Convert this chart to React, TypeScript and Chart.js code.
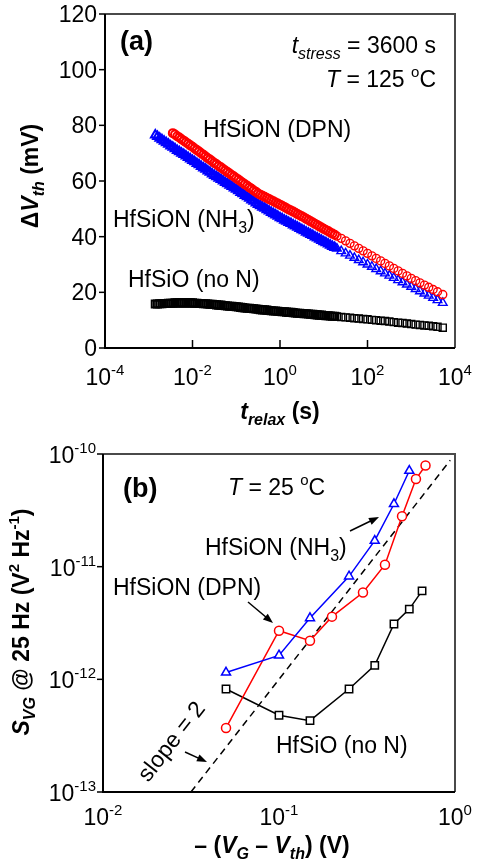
import React, { useEffect, useRef } from 'react';
import { Chart, registerables } from 'chart.js';

Chart.register(...registerables);

const FONT = '"Liberation Sans", Arial, Helvetica, sans-serif';

// ---------------- Panel (a): dVth relaxation after 3600 s stress ----------------
const relaxTimes = [
  0.00141, 0.00158, 0.00178, 0.002, 0.00224, 0.00251, 0.00282, 0.00316, 0.00355, 0.00398,
  0.00447, 0.00501, 0.00562, 0.00631, 0.00708, 0.00794, 0.00891, 0.01, 0.0112, 0.0126,
  0.0141, 0.0158, 0.0178, 0.02, 0.0224, 0.0251, 0.0282, 0.0316, 0.0355, 0.0398,
  0.0447, 0.0501, 0.0562, 0.0631, 0.0708, 0.0794, 0.0891, 0.1, 0.112, 0.126,
  0.141, 0.158, 0.178, 0.2, 0.224, 0.251, 0.282, 0.316, 0.355, 0.398,
  0.447, 0.501, 0.562, 0.631, 0.708, 0.794, 0.891, 1.0, 1.12, 1.26,
  1.41, 1.58, 1.78, 2.0, 2.24, 2.51, 2.82, 3.16, 3.55, 3.98,
  4.47, 5.01, 5.62, 6.31, 7.08, 7.94, 8.91, 10.0, 11.2, 12.6,
  14.1, 15.8, 17.8, 20.0, 25.1, 31.6, 39.8, 50.1, 63.1, 79.4,
  100, 126, 158, 200, 251, 316, 398, 501, 631, 794,
  1000, 1260, 1580, 2000, 2510, 3160, 3980, 5250,
];

const dvthDPN = [
  null, null, null, null, null, null, null, null, 77.2, 76.7,
  76.1, 75.6, 75.0, 74.5, 73.9, 73.4, 72.8, 72.3, 71.7, 71.1,
  70.6, 70.0, 69.4, 68.8, 68.2, 67.7, 67.1, 66.5, 66.0, 65.4,
  64.9, 64.3, 63.8, 63.2, 62.7, 62.1, 61.6, 61.0, 60.5, 59.9,
  59.4, 58.8, 58.3, 57.7, 57.2, 56.6, 56.1, 55.5, 55.1, 54.7,
  54.3, 53.9, 53.5, 53.1, 52.7, 52.3, 51.9, 51.5, 51.1, 50.7,
  50.2, 49.8, 49.4, 49.0, 48.6, 48.1, 47.7, 47.3, 46.9, 46.4,
  46.0, 45.5, 45.1, 44.6, 44.2, 43.7, 43.3, 42.8, 42.4, 42.0,
  41.5, 41.1, 40.7, 40.2, 39.4, 38.5, 37.6, 36.7, 35.8, 34.9,
  34.0, 33.1, 32.2, 31.3, 30.4, 29.5, 28.6, 27.7, 26.8, 25.9,
  25.0, 24.2, 23.4, 22.6, 21.8, 21.0, 20.2, 19.2,
];

const dvthNH3 = [
  76.5, 76.0, 75.4, 74.8, 74.3, 73.7, 73.2, 72.6, 72.1, 71.6,
  71.0, 70.5, 70.0, 69.5, 69.0, 68.4, 67.9, 67.4, 66.9, 66.3,
  65.8, 65.2, 64.7, 64.2, 63.6, 63.1, 62.5, 62.0, 61.5, 61.0,
  60.5, 60.0, 59.5, 59.0, 58.5, 58.0, 57.5, 57.0, 56.5, 55.9,
  55.4, 54.8, 54.3, 53.8, 53.2, 52.7, 52.1, 51.6, 51.1, 50.6,
  50.2, 49.7, 49.2, 48.7, 48.2, 47.8, 47.3, 46.8, 46.4, 45.9,
  45.5, 45.1, 44.7, 44.2, 43.8, 43.4, 42.9, 42.5, 42.1, 41.6,
  41.2, 40.8, 40.4, 39.9, 39.5, 39.1, 38.6, 38.2, 37.8, 37.4,
  36.9, 36.5, 36.1, 35.7, 34.8, 34.0, 33.2, 32.4, 31.6, 30.8,
  30.0, 29.2, 28.4, 27.6, 26.8, 26.0, 25.2, 24.4, 23.6, 22.8,
  22.0, 21.2, 20.4, 19.6, 18.8, 18.0, 17.2, 16.2,
];

const dvthNoN = [
  15.8, 15.8, 15.9, 15.9, 16.0, 16.0, 16.1, 16.1, 16.1, 16.2,
  16.2, 16.2, 16.2, 16.2, 16.2, 16.2, 16.2, 16.2, 16.1, 16.1,
  16.0, 16.0, 15.9, 15.9, 15.8, 15.7, 15.7, 15.6, 15.5, 15.4,
  15.4, 15.3, 15.2, 15.1, 15.0, 15.0, 14.9, 14.8, 14.7, 14.6,
  14.5, 14.4, 14.3, 14.3, 14.2, 14.1, 14.0, 13.9, 13.8, 13.7,
  13.7, 13.6, 13.5, 13.4, 13.3, 13.3, 13.2, 13.1, 13.0, 13.0,
  12.9, 12.8, 12.8, 12.7, 12.6, 12.5, 12.5, 12.4, 12.3, 12.3,
  12.2, 12.1, 12.1, 12.0, 11.9, 11.8, 11.8, 11.7, 11.6, 11.6,
  11.5, 11.4, 11.4, 11.3, 11.1, 11.0, 10.9, 10.7, 10.6, 10.4,
  10.3, 10.1, 10.0, 9.8, 9.7, 9.5, 9.3, 9.1, 9.0, 8.8,
  8.6, 8.4, 8.3, 8.1, 8.0, 7.8, 7.6, 7.3,
];

const aYTicks = [0, 20, 40, 60, 80, 100, 120];
const aXTickExps = [-4, -2, 0, 2, 4];

// ---------------- Panel (b): S_VG @ 25 Hz vs overdrive ----------------
const nh3Vov = [0.05, 0.1, 0.15, 0.25, 0.35, 0.45, 0.55];
const nh3Svg = [1.15e-12, 1.63e-12, 3.5e-12, 8.2e-12, 1.7e-11, 3.6e-11, 7.1e-11];

const dpnVov = [0.05, 0.1, 0.15, 0.2, 0.3, 0.4, 0.5, 0.6, 0.68];
const dpnSvg = [3.7e-13, 2.7e-12, 2.2e-12, 3.6e-12, 5.9e-12, 1.04e-11, 2.8e-11, 6.0e-11, 7.9e-11];

const noNVov = [0.05, 0.1, 0.15, 0.25, 0.35, 0.45, 0.55, 0.65];
const noNSvg = [8.2e-13, 4.8e-13, 4.3e-13, 8.2e-13, 1.33e-12, 3.1e-12, 4.2e-12, 6.1e-12];

const slopeVov = [0.0316, 0.94];
const slopeSvg = [1e-13, 8.8e-11];

const bYTickExps = [-13, -12, -11, -10];
const bXTickExps = [-2, -1, 0];

// ---------------- drawing helpers ----------------
type Seg = { t: string; size?: number; bold?: boolean; italic?: boolean; dy?: number };

function segFont(s: Seg, base: number, bold: boolean) {
  const b = s.bold ?? bold;
  return `${s.italic ? 'italic ' : ''}${b ? 'bold ' : ''}${s.size ?? base}px ${FONT}`;
}

function drawRich(
  ctx: CanvasRenderingContext2D,
  segs: Seg[],
  x: number,
  y: number,
  base: number,
  opts: { align?: 'left' | 'center' | 'right'; bold?: boolean; rot?: number; shift?: number } = {}
) {
  ctx.save();
  ctx.translate(x, y);
  if (opts.rot) ctx.rotate(opts.rot);
  let total = 0;
  for (const s of segs) {
    ctx.font = segFont(s, base, !!opts.bold);
    total += ctx.measureText(s.t).width;
  }
  let cx = opts.align === 'center' ? -total / 2 : opts.align === 'right' ? -total : 0;
  ctx.fillStyle = '#000';
  ctx.textAlign = 'left';
  ctx.textBaseline = 'alphabetic';
  for (const s of segs) {
    ctx.font = segFont(s, base, !!opts.bold);
    ctx.fillText(s.t, cx, (s.dy ?? 0) + (opts.shift ?? 0));
    cx += ctx.measureText(s.t).width;
  }
  ctx.restore();
}

function line(ctx: CanvasRenderingContext2D, x1: number, y1: number, x2: number, y2: number) {
  ctx.beginPath();
  ctx.moveTo(x1, y1);
  ctx.lineTo(x2, y2);
  ctx.stroke();
}

function arrow(ctx: CanvasRenderingContext2D, x1: number, y1: number, x2: number, y2: number) {
  const a = Math.atan2(y2 - y1, x2 - x1);
  const L = 10;
  const W = 3.8;
  ctx.lineWidth = 1.5;
  line(ctx, x1, y1, x2 - L * 0.7 * Math.cos(a), y2 - L * 0.7 * Math.sin(a));
  ctx.beginPath();
  ctx.moveTo(x2, y2);
  ctx.lineTo(x2 - L * Math.cos(a) + W * Math.sin(a), y2 - L * Math.sin(a) - W * Math.cos(a));
  ctx.lineTo(x2 - L * Math.cos(a) - W * Math.sin(a), y2 - L * Math.sin(a) + W * Math.cos(a));
  ctx.closePath();
  ctx.fill();
}

function drawBox(ctx: CanvasRenderingContext2D, area: { left: number; right: number; top: number; bottom: number }) {
  const { left, right, top, bottom } = area;
  ctx.lineWidth = 2;
  ctx.strokeStyle = '#4a4a4a';
  ctx.beginPath();
  ctx.moveTo(left, top);
  ctx.lineTo(right, top);
  ctx.lineTo(right, bottom);
  ctx.stroke();
  ctx.strokeStyle = '#000';
  ctx.beginPath();
  ctx.moveTo(left, top);
  ctx.lineTo(left, bottom);
  ctx.lineTo(right, bottom);
  ctx.stroke();
}

const sup = (t: string): Seg => ({ t, size: 15, dy: -10 });
const sub = (t: string, extra: Partial<Seg> = {}): Seg => ({ t, size: 16, dy: 6, ...extra });

const panelAPlugin = {
  id: 'panelA',
  afterDraw(chart: any) {
    const ctx: CanvasRenderingContext2D = chart.ctx;
    const area = chart.chartArea;
    const xs = chart.scales.x;
    const ys = chart.scales.y;
    ctx.save();
    drawBox(ctx, area);
    ctx.strokeStyle = '#000';
    ctx.fillStyle = '#000';
    ctx.lineWidth = 1.5;
    for (const v of aYTicks) {
      const y = ys.getPixelForValue(v);
      line(ctx, area.left - 6, y, area.left, y);
      drawRich(ctx, [{ t: String(v) }], area.left - 8, y + 8, 23, { align: 'right' });
    }
    for (const e of aXTickExps) {
      const x = xs.getPixelForValue(Math.pow(10, e));
      if (e > aXTickExps[0] && e < aXTickExps[aXTickExps.length - 1]) line(ctx, x, area.bottom, x, area.bottom - 8);
      drawRich(ctx, [{ t: '10' }, sup(String(e))], x, 385, 23, { align: 'center' });
    }
    // axis titles
    drawRich(ctx, [{ t: 't', italic: true }, sub('relax', { italic: true }), { t: ' (s)' }], 280, 419, 23, {
      align: 'center',
      bold: true,
    });
    drawRich(
      ctx,
      [{ t: 'Δ' }, { t: 'V', italic: true }, sub('th', { italic: true }), { t: ' (mV)' }],
      38,
      176,
      23,
      { align: 'center', bold: true, rot: -Math.PI / 2 }
    );
    // annotations
    drawRich(ctx, [{ t: '(a)' }], 120, 50, 27, { bold: true });
    drawRich(ctx, [{ t: 't', italic: true }, sub('stress', { italic: true }), { t: ' = 3600 s' }], 436, 53, 23, {
      align: 'right',
    });
    drawRich(ctx, [{ t: 'T', italic: true }, { t: ' = 125 ' }, sup('o'), { t: 'C' }], 436, 87, 23, { align: 'right' });
    drawRich(ctx, [{ t: 'HfSiON (DPN)' }], 203, 137, 23);
    drawRich(ctx, [{ t: 'HfSiON (NH' }, sub('3'), { t: ')' }], 113, 227, 23);
    drawRich(ctx, [{ t: 'HfSiO (no N)' }], 128, 287, 23);
    ctx.restore();
  },
};

const B_OFF = 430;

const panelBPlugin = {
  id: 'panelB',
  afterDraw(chart: any) {
    const ctx: CanvasRenderingContext2D = chart.ctx;
    const area = chart.chartArea;
    const xs = chart.scales.x;
    const ys = chart.scales.y;
    ctx.save();
    drawBox(ctx, area);
    ctx.strokeStyle = '#000';
    ctx.fillStyle = '#000';
    ctx.lineWidth = 1.5;
    for (const e of bYTickExps) {
      const y = ys.getPixelForValue(Math.pow(10, e));
      line(ctx, area.left - 6, y, area.left, y);
      drawRich(ctx, [{ t: '10' }, sup(String(e))], area.left - 7, y + 9, 23, { align: 'right' });
    }
    for (const e of bXTickExps) {
      const x = xs.getPixelForValue(Math.pow(10, e));
      drawRich(ctx, [{ t: '10' }, sup(String(e))], x, 825 - B_OFF, 23, { align: 'center' });
    }
    // axis titles
    drawRich(
      ctx,
      [
        { t: '– (' },
        { t: 'V', italic: true },
        sub('G', { italic: true }),
        { t: ' – ' },
        { t: 'V', italic: true },
        sub('th', { italic: true }),
        { t: ') (V)' },
      ],
      272,
      853 - B_OFF,
      23,
      { align: 'center', bold: true }
    );
    drawRich(
      ctx,
      [
        { t: 'S', italic: true },
        sub('VG', { italic: true }),
        { t: ' @ 25 Hz (V' },
        sup('2'),
        { t: ' Hz' },
        sup('-1'),
        { t: ')' },
      ],
      29,
      622 - B_OFF,
      23,
      { align: 'center', bold: true, rot: -Math.PI / 2 }
    );
    // annotations
    drawRich(ctx, [{ t: '(b)' }], 123, 497 - B_OFF, 27, { bold: true });
    drawRich(ctx, [{ t: 'T', italic: true }, { t: ' = 25 ' }, sup('o'), { t: 'C' }], 228, 495 - B_OFF, 23);
    drawRich(ctx, [{ t: 'HfSiON (NH' }, sub('3'), { t: ')' }], 205, 555 - B_OFF, 23);
    drawRich(ctx, [{ t: 'HfSiON (DPN)' }], 113, 595 - B_OFF, 23);
    drawRich(ctx, [{ t: 'HfSiO (no N)' }], 276, 753 - B_OFF, 23);
    drawRich(ctx, [{ t: 'slope = 2' }], 171, 741 - B_OFF, 23, { align: 'center', rot: (-52 * Math.PI) / 180, shift: 8 });
    arrow(ctx, 350, 531 - B_OFF, 379, 517 - B_OFF);
    arrow(ctx, 248, 602 - B_OFF, 273, 623 - B_OFF);
    arrow(ctx, 185, 752 - B_OFF, 207, 762 - B_OFF);
    ctx.restore();
  },
};

function pts(xs: number[], ys: (number | null)[]) {
  const out: { x: number; y: number }[] = [];
  xs.forEach((x, i) => {
    const y = ys[i];
    if (y !== null && y !== undefined) out.push({ x, y });
  });
  return out;
}

export default function App() {
  const refA = useRef<HTMLCanvasElement | null>(null);
  const refB = useRef<HTMLCanvasElement | null>(null);

  useEffect(() => {
    const common = {
      responsive: false,
      animation: false as const,
      events: [] as any[],
      plugins: { legend: { display: false }, tooltip: { enabled: false } },
    };

    // dense early-time region is drawn with heavier rings so it reads as a solid band
    const denseWidth = (c: any) => (c.raw && c.raw.x < 20 ? 2 : 1.4);

    const markerA = (color: string, style: string, r: number) => ({
      showLine: false,
      pointStyle: style,
      pointRadius: r,
      pointBorderWidth: denseWidth,
      pointBorderColor: color,
      borderColor: color,
      pointBackgroundColor: 'rgba(255,255,255,0)',
      backgroundColor: 'rgba(255,255,255,0)',
      clip: false as any,
    });

    const chartA = new Chart(refA.current as HTMLCanvasElement, {
      type: 'scatter',
      data: {
        datasets: [
          { label: 'HfSiON (DPN)', data: pts(relaxTimes, dvthDPN), ...markerA('#ff0000', 'circle', 4) },
          { label: 'HfSiON (NH3)', data: pts(relaxTimes, dvthNH3), ...markerA('#0000ff', 'triangle', 5) },
          { label: 'HfSiO (no N)', data: pts(relaxTimes, dvthNoN), ...markerA('#000000', 'rect', 5) },
        ] as any,
      },
      options: {
        ...common,
        layout: { padding: { left: 105, right: 26, top: 14, bottom: 82 } },
        scales: {
          x: { type: 'logarithmic', min: 1e-4, max: 1e4, display: false },
          y: { type: 'linear', min: 0, max: 120, display: false },
        },
      } as any,
      plugins: [panelAPlugin],
    });

    const lineB = (color: string, style: string, r: number) => ({
      showLine: true,
      borderColor: color,
      borderWidth: 1.5,
      tension: 0,
      pointStyle: style,
      pointRadius: r,
      pointBorderWidth: 1.5,
      pointBorderColor: color,
      pointBackgroundColor: '#ffffff',
      backgroundColor: '#ffffff',
      clip: false as any,
    });

    const chartB = new Chart(refB.current as HTMLCanvasElement, {
      type: 'scatter',
      data: {
        datasets: [
          { label: 'HfSiON (NH3)', data: pts(nh3Vov, nh3Svg), ...lineB('#0000ff', 'triangle', 5.2) },
          { label: 'HfSiON (DPN)', data: pts(dpnVov, dpnSvg), ...lineB('#ff0000', 'circle', 4.5) },
          { label: 'HfSiO (no N)', data: pts(noNVov, noNSvg), ...lineB('#000000', 'rect', 5.2) },
          {
            label: 'slope = 2',
            data: pts(slopeVov, slopeSvg),
            showLine: true,
            borderColor: '#000000',
            borderWidth: 1.5,
            borderDash: [7, 5],
            pointRadius: 0,
          },
        ] as any,
      },
      options: {
        ...common,
        layout: { padding: { left: 103, right: 26, top: 24, bottom: 75 } },
        scales: {
          x: { type: 'logarithmic', min: 0.01, max: 1, display: false },
          y: { type: 'logarithmic', min: 1e-13, max: 1e-10, display: false },
        },
      } as any,
      plugins: [panelBPlugin],
    });

    return () => {
      chartA.destroy();
      chartB.destroy();
    };
  }, []);

  return (
    <div
      style={{
        position: 'fixed',
        left: 0,
        top: 0,
        width: 481,
        height: 867,
        background: '#ffffff',
        overflow: 'hidden',
      }}
    >
      <canvas ref={refA} width={481} height={430} style={{ display: 'block', width: 481, height: 430 }} />
      <canvas ref={refB} width={481} height={437} style={{ display: 'block', width: 481, height: 437 }} />
    </div>
  );
}
